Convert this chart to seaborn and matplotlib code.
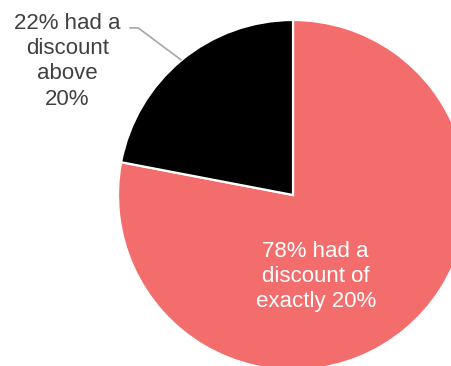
import numpy as np
import matplotlib
matplotlib.use("Agg")
import matplotlib.pyplot as plt
import seaborn as sns

sns.set_theme(style="white")
plt.rcParams['font.family'] = ['Liberation Sans', 'DejaVu Sans']

labels = ["78% had a\ndiscount of\nexactly 20%", "22% had a\ndiscount\nabove\n20%"]
values = [78, 22]
colors = ["#F46D6D", "#000000"]

W, H = 452, 366
fig = plt.figure(figsize=(W / 100, H / 100), dpi=100)
cx, cy, r = 293, 366 - 195, 175
ax = fig.add_axes([(cx - r) / W, (cy - r) / H, 2 * r / W, 2 * r / H])
wedges, _ = ax.pie(values, colors=colors, startangle=90, counterclock=False,
                   radius=1, wedgeprops=dict(edgecolor="white", linewidth=1.6))
for w in wedges:
    w.set_clip_on(False)
ax.set_xlim(-1, 1)
ax.set_ylim(-1, 1)
ax.set_aspect("equal")
ax.axis("off")

# inside label for the big slice
ax.text(0.13, -0.465, labels[0], ha="center", va="center", color="white",
        fontsize=16, linespacing=1.25, clip_on=False)

# outside label with leader line for the small slice
w = wedges[1]
mid = np.deg2rad((w.theta1 + w.theta2) / 2)
px, py = np.cos(mid), np.sin(mid)
ax.plot([-0.935, -0.885, px], [0.955, 0.955, py], color="#A6A6A6", lw=1.2,
        clip_on=False, solid_capstyle="butt")
ax.text(-1.29, 0.765, labels[1], ha="center", va="center", color="#404040",
        fontsize=16, linespacing=1.27, clip_on=False)

fig.savefig("out.png", dpi=100)
